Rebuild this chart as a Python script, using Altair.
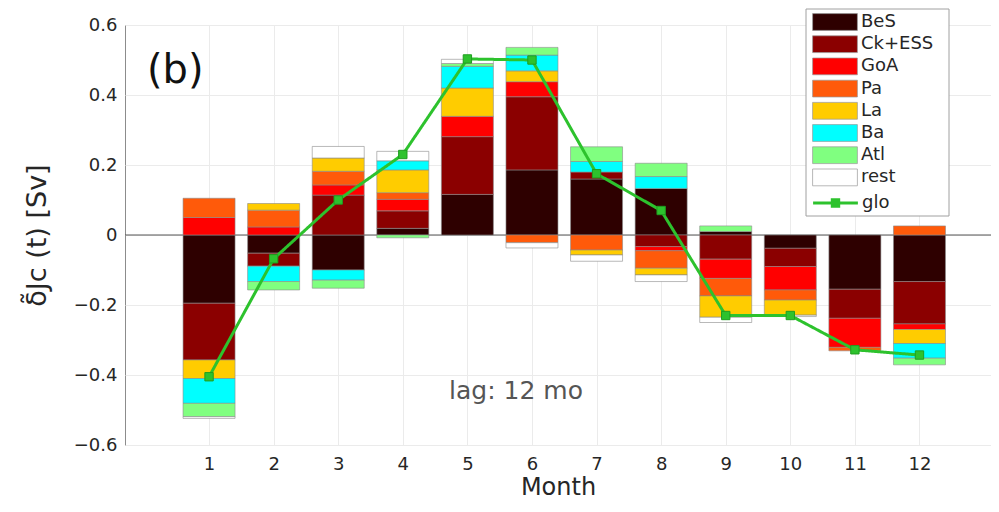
import altair as alt
import pandas as pd

# ---------------- data ----------------
months = list(range(1, 13))
categories = ["BeS", "Ck+ESS", "GoA", "Pa", "La", "Ba", "Atl", "rest"]
cat_colors = ["#2e0000", "#8b0000", "#ff0000", "#ff5a0a", "#ffcc00", "#00ffff", "#80ff80", "#ffffff"]

BeS = [-0.195, -0.052, -0.100, 0.019, 0.116, 0.186, 0.160, 0.133, 0.010, -0.038, -0.155, -0.133]
CkESS = [-0.162, -0.037, 0.114, 0.050, 0.165, 0.209, 0.020, -0.033, -0.069, -0.052, -0.083, -0.121]
GoA = [0.050, 0.023, 0.029, 0.033, 0.058, 0.043, 0.000, -0.012, -0.055, -0.067, -0.083, -0.016]
Pa = [0.055, 0.048, 0.039, 0.019, 0.000, -0.022, -0.043, -0.050, -0.050, -0.029, -0.010, 0.026]
La = [-0.053, 0.019, 0.038, 0.065, 0.081, 0.031, -0.014, -0.019, -0.061, -0.043, 0.000, -0.040]
Ba = [-0.071, -0.044, -0.029, 0.026, 0.062, 0.045, 0.030, 0.034, 0.000, 0.000, 0.000, -0.042]
Atl = [-0.038, -0.024, -0.023, -0.008, 0.008, 0.022, 0.042, 0.038, 0.016, 0.000, 0.000, -0.019]
rest = [-0.005, 0.000, 0.033, 0.027, 0.012, -0.015, -0.018, -0.019, -0.015, -0.004, 0.000, 0.000]

glo = [-0.405, -0.068, 0.100, 0.230, 0.503, 0.500, 0.175, 0.070, -0.230, -0.230, -0.328, -0.343]
glo_color = "#2dc22d"

y_ticks = [-0.6, -0.4, -0.2, 0, 0.2, 0.4, 0.6]

series = [BeS, CkESS, GoA, Pa, La, Ba, Atl, rest]
rows = []
for ci, (name, vals) in enumerate(zip(categories, series)):
    for m, v in zip(months, vals):
        if v != 0:
            rows.append({"month": m, "region": name, "order": ci, "value": v})
bars_df = pd.DataFrame(rows)
glo_df = pd.DataFrame({"month": months, "value": glo, "region": ["glo"] * 12})

color_scale = alt.Scale(domain=categories, range=cat_colors)

x_scale = alt.Scale(domain=[-0.224, 13.03], nice=False, zero=False)
y_scale = alt.Scale(domain=[-0.6, 0.6], nice=False)

FONT = "DejaVu Sans"
TXT = "#262626"

x_axis = alt.Axis(values=months, format="d", title="Month", grid=True, ticks=False, domain=False,
                  labelFontSize=18, labelFont=FONT, labelColor=TXT, labelPadding=10,
                  titleFontSize=24, titleFont=FONT, titleColor=TXT, titleFontWeight="normal",
                  titlePadding=2, gridColor="#ebebeb")
y_axis = alt.Axis(values=y_ticks, format=".1~f", title="δ̃Jc (t) [Sv]", grid=True, ticks=False,
                  domain=False, labelFontSize=18, labelFont=FONT, labelColor=TXT, labelPadding=8,
                  titleFontSize=27, titleFont=FONT, titleColor=TXT, titleFontWeight="normal",
                  titlePadding=22, gridColor="#ebebeb")

rect_path = "M-2.8,-1.05H2.8V1.05H-2.8Z"
glo_path = "M-2.8,0H2.8 M-0.4,-0.4H0.4V0.4H-0.4Z"

LEG_X = 681
bar_legend = alt.Legend(
    orient="none", legendX=LEG_X, legendY=-16, direction="vertical",
    symbolSize=256, symbolType=rect_path, symbolOffset=16, labelOffset=17,
    symbolStrokeWidth=0.7, symbolStrokeColor="#999999",
    labelFontSize=18, labelFont=FONT, labelColor=TXT, labelLimit=200,
    padding=4, rowPadding=2.2,
)
glo_legend = alt.Legend(
    orient="none", legendX=LEG_X + 4, legendY=168.5, direction="vertical",
    symbolSize=256, symbolType=glo_path, symbolOffset=16, labelOffset=17,
    symbolStrokeWidth=3, symbolStrokeColor=glo_color, symbolFillColor=glo_color,
    labelFontSize=18, labelFont=FONT, labelColor=TXT, labelLimit=200,
    padding=0,
)

frame = alt.Chart(pd.DataFrame({"k": ["legend"]})).mark_rect(
    fill="white", stroke="#a0a0a0", strokeWidth=1
).encode(x=alt.value(LEG_X), x2=alt.value(LEG_X + 143), y=alt.value(-16), y2=alt.value(191))

zero_rule = alt.Chart(pd.DataFrame({"v": [0]})).mark_rule(color="#555555", strokeWidth=1).encode(
    y=alt.Y("v:Q", scale=y_scale, axis=y_axis)
)

bars = alt.Chart(bars_df).mark_bar(size=52, stroke="#8a8a8a", strokeWidth=0.6).encode(
    x=alt.X("month:Q", scale=x_scale, axis=x_axis),
    y=alt.Y("value:Q", scale=y_scale, axis=y_axis, stack="zero"),
    color=alt.Color("region:N", scale=color_scale, legend=bar_legend, title=None),
    order=alt.Order("order:Q", sort="ascending"),
)

line = alt.Chart(glo_df).mark_line(strokeWidth=3, color=glo_color).encode(
    x=alt.X("month:Q", scale=x_scale, axis=x_axis),
    y=alt.Y("value:Q", scale=y_scale, axis=y_axis),
    strokeDash=alt.StrokeDash("region:N", scale=alt.Scale(domain=["glo"], range=[[1, 0]]),
                              legend=glo_legend, title=None),
)

points = alt.Chart(glo_df).mark_point(shape="square", filled=True, size=70, opacity=1,
                                      color=glo_color, stroke="#1f9e1f", strokeWidth=1).encode(
    x=alt.X("month:Q", scale=x_scale, axis=x_axis),
    y=alt.Y("value:Q", scale=y_scale, axis=y_axis),
)

panel = alt.Chart(pd.DataFrame({"t": ["(b)"]})).mark_text(
    font=FONT, fontSize=40, color="#111111", align="left", baseline="middle"
).encode(text="t:N", x=alt.value(22), y=alt.value(46))

lag = alt.Chart(pd.DataFrame({"t": ["lag: 12 mo"]})).mark_text(
    font=FONT, fontSize=25, color="#555555", align="center", baseline="middle"
).encode(text="t:N", x=alt.value(391), y=alt.value(366))

chart = alt.layer(zero_rule, bars, line, points, frame, panel, lag).properties(
    width=866, height=420,
    autosize=alt.AutoSizeParams(type="none"),
    padding={"left": 117, "top": 17, "right": 0, "bottom": 59},
).configure_view(stroke="#8c8c8c", strokeWidth=1)

chart.save("out.html", embed_options={"renderer": "svg", "actions": False})
